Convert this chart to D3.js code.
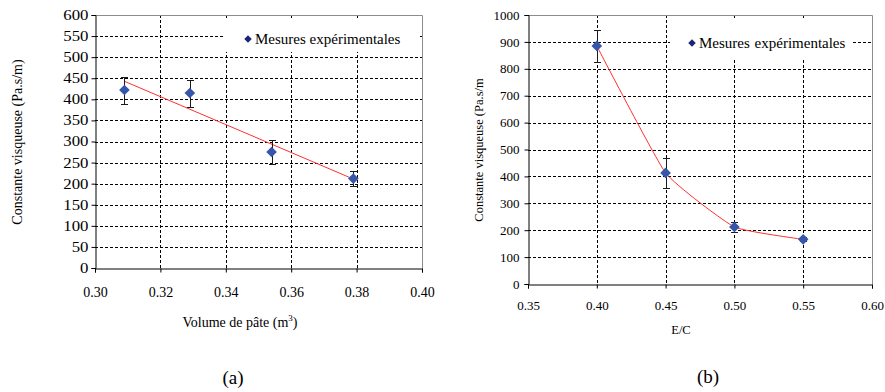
<!DOCTYPE html>
<html>
<head>
<meta charset="utf-8">
<script src="https://cdn.jsdelivr.net/npm/d3@7"></script>
<style>
  body { margin: 0; background: #fff; }
  svg text { font-family: "Liberation Serif", Tinos, "DejaVu Serif", "Noto Serif", serif !important; fill: #000; }
</style>
</head>
<body>
<svg id="fig" width="885" height="392"></svg>
<script>
// (a) constante visqueuse vs volume de pâte
const volumePate = [0.309, 0.329, 0.354, 0.379];
const constanteA = [422, 415, 275, 212];
const erreurA = [32, 32, 28, 17];
const xTicksA = [0.30, 0.32, 0.34, 0.36, 0.38, 0.40];
const yTicksA = [0, 50, 100, 150, 200, 250, 300, 350, 400, 450, 500, 550, 600];

// (b) constante visqueuse vs E/C
const rapportEC = [0.40, 0.45, 0.50, 0.55];
const constanteB = [885, 413, 212, 166];
const erreurB = [60, 56, 18, 8];
const xTicksB = [0.35, 0.40, 0.45, 0.50, 0.55, 0.60];
const yTicksB = [0, 100, 200, 300, 400, 500, 600, 700, 800, 900, 1000];

const legendLabel = "Mesures expérimentales";
const serif = '"Liberation Serif", Tinos, "DejaVu Serif", "Noto Serif", serif';

const svg = d3.select("#fig");
svg.append("rect").attr("width", 885).attr("height", 392).attr("fill", "#fff");

function drawPanel(cfg) {
  const g = svg.append("g").attr("font-family", serif);
  const x = d3.scaleLinear().domain(cfg.xDomain).range([cfg.left, cfg.right]);
  const y = d3.scaleLinear().domain(cfg.yDomain).range([cfg.bottom, cfg.top]);

  // grid
  g.append("g").selectAll("line")
    .data(cfg.yTicks.slice(1, -1))
    .join("line")
      .attr("x1", cfg.left).attr("x2", cfg.right)
      .attr("y1", d => Math.round(y(d)) + 0.5).attr("y2", d => Math.round(y(d)) + 0.5)
      .attr("stroke", "#000").attr("stroke-dasharray", "3,2");
  g.append("g").selectAll("line")
    .data(cfg.xTicks.slice(1, -1))
    .join("line")
      .attr("y1", cfg.top).attr("y2", cfg.bottom)
      .attr("x1", d => Math.round(x(d)) + 0.5).attr("x2", d => Math.round(x(d)) + 0.5)
      .attr("stroke", "#000").attr("stroke-dasharray", "3,2");

  // plot border top/right
  g.append("path")
    .attr("d", `M${cfg.left},${cfg.top + 0.5}H${cfg.right + 0.5}V${cfg.bottom}`)
    .attr("fill", "none").attr("stroke", "#8c8c8c");

  // legend box (covers grid)
  const lg = g.append("g");
  lg.append("rect")
    .attr("x", cfg.legend.x0).attr("y", cfg.legend.y0)
    .attr("width", cfg.legend.x1 - cfg.legend.x0)
    .attr("height", cfg.legend.y1 - cfg.legend.y0)
    .attr("fill", "#fff");
  lg.append("path")
    .attr("d", d3.symbol(d3.symbolDiamond2, 36)())
    .attr("transform", `translate(${cfg.legend.mx},${cfg.legend.my})`)
    .attr("fill", "#1c2378");
  lg.append("text")
    .attr("x", cfg.legend.mx + 7).attr("y", cfg.legend.my + 5)
    .attr("font-size", cfg.legendFont)
    .attr("word-spacing", cfg.legendWordSpace)
    .text(legendLabel);

  // axes
  const yAxis = d3.axisLeft(y).tickValues(cfg.yTicks).tickSize(4).tickPadding(cfg.yPad)
    .tickFormat(d3.format("d"));
  const yg = g.append("g").attr("transform", `translate(${cfg.left + 0.5},0)`).call(yAxis);
  const xAxis = d3.axisBottom(x).tickValues(cfg.xTicks).tickSize(4).tickPadding(cfg.xPad)
    .tickFormat(d3.format(".2f"));
  const xg = g.append("g").attr("transform", `translate(0,${cfg.bottom + 0.5})`).call(xAxis);
  [yg, xg].forEach(a => {
    a.attr("font-family", serif).attr("font-size", cfg.tickFont);
    a.select(".domain").attr("stroke", "#000");
    a.selectAll(".tick line").attr("stroke", "#000");
  });
  // tick digits in the reference are a bit wider than the font
  yg.selectAll(".tick text")
    .attr("transform", `translate(${-4 - cfg.yPad},0) scale(${cfg.yStretch},1) translate(${4 + cfg.yPad},0)`);

  // fit line
  g.append("path")
    .datum(cfg.line)
    .attr("d", d3.line().x(d => x(d[0])).y(d => y(d[1])).curve(cfg.curve))
    .attr("fill", "none").attr("stroke", "#ff3030").attr("stroke-width", 1);

  // error bars
  const pts = cfg.xs.map((v, i) => ({ x: v, y: cfg.ys[i], e: cfg.es[i] }));
  const eb = g.append("g").attr("stroke", "#1a1a1a").attr("stroke-width", 1);
  eb.selectAll("path")
    .data(pts)
    .join("path")
      .attr("d", d => {
        const cx = Math.round(x(d.x)) + 0.5;
        const t = Math.round(y(d.y + d.e)) + 0.5, b = Math.round(y(d.y - d.e)) + 0.5;
        return `M${cx},${t}V${b}M${cx - 3.5},${t}H${cx + 3.5}M${cx - 3.5},${b}H${cx + 3.5}`;
      })
      .attr("fill", "none");

  // markers
  g.append("g").selectAll("path")
    .data(pts)
    .join("path")
      .attr("d", d3.symbol(d3.symbolDiamond2, 72)())
      .attr("transform", d => `translate(${x(d.x)},${y(d.y)})`)
      .attr("fill", "#3556ab");

  // titles
  g.append("text")
    .attr("transform", `translate(${cfg.yTitleX},${cfg.yTitleY}) rotate(-90)`)
    .attr("text-anchor", "middle")
    .attr("font-size", cfg.yTitleFont)
    .text(cfg.yTitle);
  const xt = g.append("text")
    .attr("x", cfg.xTitleX).attr("y", cfg.xTitleY)
    .attr("text-anchor", "middle")
    .attr("font-size", cfg.xTitleFont);
  xt.text(cfg.xTitle);
  if (cfg.xTitleSup) {
    xt.append("tspan").attr("dy", -6).attr("font-size", 9).text(cfg.xTitleSup);
    xt.append("tspan").attr("dy", 6).text(")");
  }
  g.append("text")
    .attr("x", cfg.labelX).attr("y", cfg.labelY)
    .attr("text-anchor", "middle")
    .attr("font-size", 19)
    .text(cfg.label);
}

// least squares trend for (a)
const mx = d3.mean(volumePate), my = d3.mean(constanteA);
const slope = d3.sum(volumePate, (v, i) => (v - mx) * (constanteA[i] - my)) /
              d3.sum(volumePate, v => (v - mx) ** 2);
const trendA = [volumePate[0], volumePate[volumePate.length - 1]]
  .map(v => [v, my + slope * (v - mx)]);

drawPanel({
  left: 95, right: 422, top: 15, bottom: 268,
  xDomain: [0.30, 0.40], yDomain: [0, 600],
  xTicks: xTicksA, yTicks: yTicksA,
  xs: volumePate, ys: constanteA, es: erreurA,
  line: trendA, curve: d3.curveLinear,
  tickFont: 14, yPad: 3, xPad: 15, yStretch: 1.2,
  legend: { x0: 224, x1: 419, y0: 18, y1: 52, mx: 248, my: 39 },
  legendFont: 15, legendWordSpace: 0,
  yTitle: "Constante visqueuse (Pa.s/m)", yTitleX: 22, yTitleY: 142, yTitleFont: 14,
  xTitle: "Volume de pâte (m", xTitleSup: "3", xTitleX: 240, xTitleY: 327, xTitleFont: 14,
  label: "(a)", labelX: 233, labelY: 384
});

drawPanel({
  left: 528, right: 872, top: 15, bottom: 284,
  xDomain: [0.35, 0.60], yDomain: [0, 1000],
  xTicks: xTicksB, yTicks: yTicksB,
  xs: rapportEC, ys: constanteB, es: erreurB,
  line: rapportEC.map((v, i) => [v, constanteB[i]]), curve: d3.curveCardinal.tension(0.6),
  tickFont: 13, yPad: 5, xPad: 12, yStretch: 1,
  legend: { x0: 670, x1: 851, y0: 18, y1: 59, mx: 692, my: 43 },
  legendFont: 15, legendWordSpace: 1,
  yTitle: "Constante visqueuse (Pa.s/m", yTitleX: 483, yTitleY: 150, yTitleFont: 12.5,
  xTitle: "E/C", xTitleX: 681, xTitleY: 334, xTitleFont: 12.5,
  label: "(b)", labelX: 708, labelY: 383
});
</script>
</body>
</html>
